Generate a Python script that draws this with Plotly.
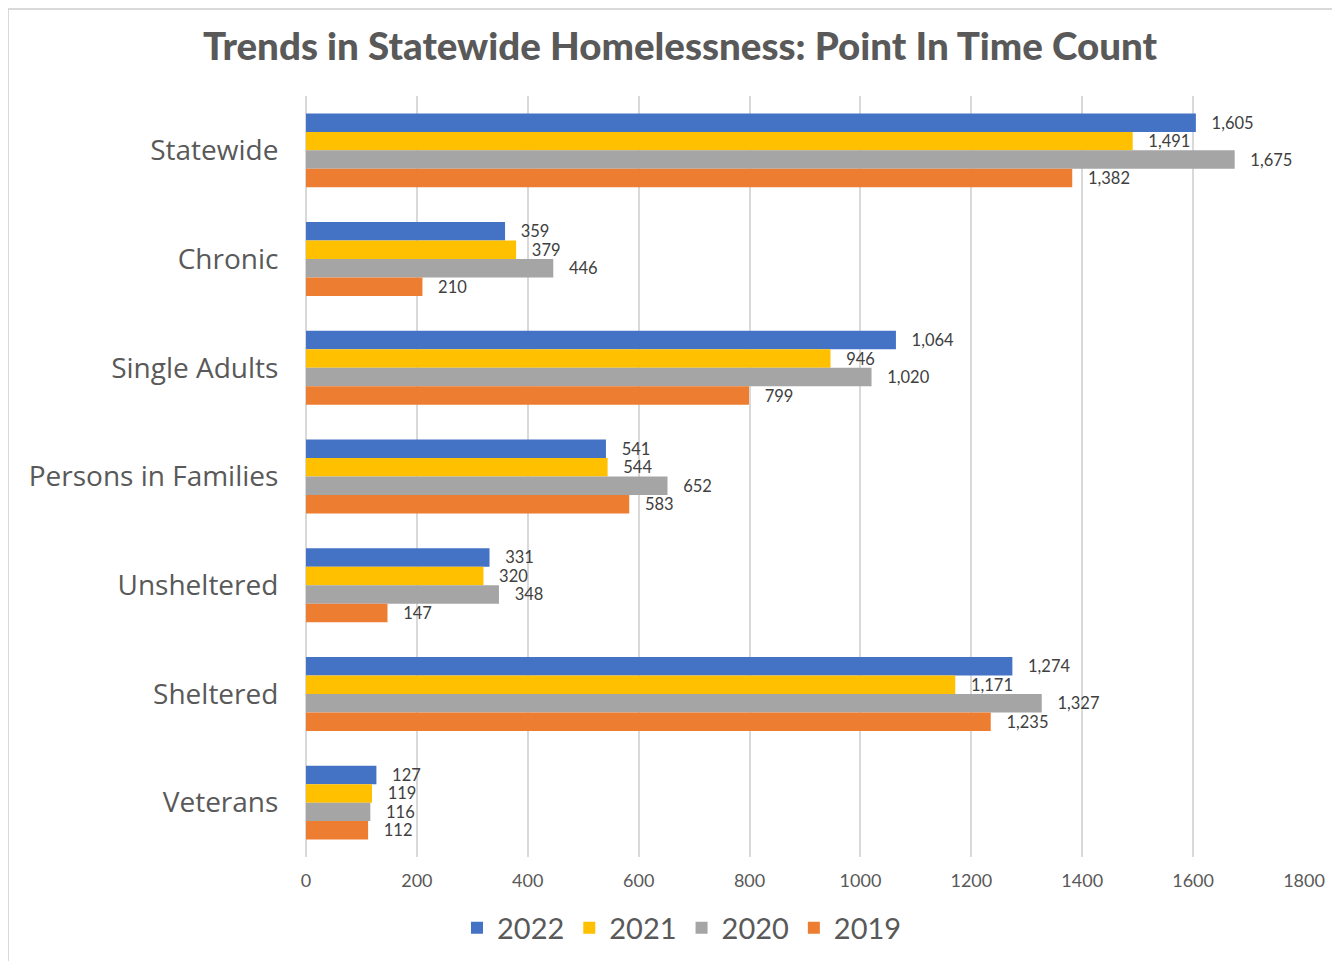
import plotly.graph_objects as go

categories = ["Statewide", "Chronic", "Single Adults", "Persons in Families",
              "Unsheltered", "Sheltered", "Veterans"]
years = ["2022", "2021", "2020", "2019"]
v2022 = [1605, 359, 1064, 541, 331, 1274, 127]
v2021 = [1491, 379, 946, 544, 320, 1171, 119]
v2020 = [1675, 446, 1020, 652, 348, 1327, 116]
v2019 = [1382, 210, 799, 583, 147, 1235, 112]
series = [v2022, v2021, v2020, v2019]
colors = ["#4472C4", "#FFC000", "#A5A5A5", "#ED7D31"]
x_ticks = [0, 200, 400, 600, 800, 1000, 1200, 1400, 1600, 1800]

W, H = 1340, 961
L, T, R, B = 298, 88, 44, 112  # page has an 8px body offset

fig = go.Figure()
for name, vals, col in zip(years, series, colors):
    fig.add_trace(go.Bar(
        y=categories, x=vals, name=name, orientation="h",
        marker=dict(color=col, line=dict(width=0)),
        texttemplate="   %{x:,}", textposition="outside",
        textfont=dict(family="Lato", size=16.5, color="#404040"),
        constraintext="none", cliponaxis=False,
    ))

pw = W - L - R
ph = H - T - B
fig.update_layout(
    width=W, height=H,
    barmode="group", bargap=0.32, bargroupgap=0,
    paper_bgcolor="white", plot_bgcolor="white",
    margin=dict(l=L, r=R, t=T, b=B),
    title=dict(text="Trends in Statewide Homelessness: Point In Time Count",
               x=(680 - 8) / W, xanchor="center", y=1 - (47 - 8) / H, yanchor="middle",
               font=dict(family="Lato", size=38.5, color="#595959", weight=900)),
    font=dict(family="Lato", color="#595959"),
    xaxis=dict(range=[0, 1800], tickvals=x_ticks, showgrid=True,
               gridcolor="#D9D9D9", gridwidth=1.5, zeroline=True,
               zerolinecolor="#D9D9D9", zerolinewidth=1.5, showline=False,
               ticks="outside", ticklen=7, tickcolor="rgba(0,0,0,0)",
               tickfont=dict(family="Lato", size=18, color="#595959")),
    yaxis=dict(autorange="reversed", showgrid=False, zeroline=False,
               ticks="outside", ticklen=21, tickcolor="rgba(0,0,0,0)",
               tickfont=dict(family="Open Sans", size=28, color="#595959")),
    legend=dict(orientation="h", x=(682 - 306) / pw, xanchor="center",
                y=-(928 - 857) / ph, yanchor="middle",
                font=dict(family="Lato", size=29, color="#595959"),
                itemwidth=30, traceorder="normal"),
    showlegend=True,
    shapes=[dict(type="rect", xref="paper", yref="paper",
                 x0=(8 - 306) / pw, x1=1.3, y0=-0.5, y1=(ph + T - 1) / ph,
                 line=dict(color="#D9D9D9", width=2), layer="below")],
)

fig.write_html("out.html")
